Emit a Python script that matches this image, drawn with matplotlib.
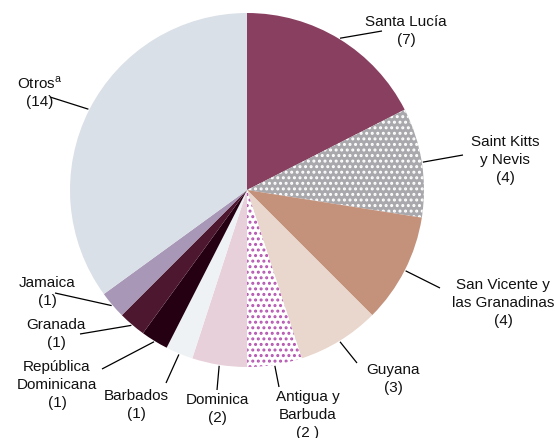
import numpy as np
import matplotlib
matplotlib.use("Agg")
import matplotlib.pyplot as plt

plt.rcParams['font.family'] = ['Liberation Sans', 'DejaVu Sans']
plt.rcParams['mathtext.fontset'] = 'custom'
plt.rcParams['mathtext.rm'] = 'Liberation Sans'
plt.rcParams['hatch.linewidth'] = 1.4

# number of projects per country
paises = ["Santa Lucía", "Saint Kitts\ny Nevis", "San Vicente y\nlas Granadinas",
          "Guyana", "Antigua y\nBarbuda", "Dominica", "Barbados",
          "República\nDominicana", "Granada", "Jamaica", r"Otros$^{\mathrm{a}}$"]
valores = [7, 4, 4, 3, 2, 2, 1, 1, 1, 1, 14]
etiquetas_valor = ["(7)", "(4)", "(4)", "(3)", "(2 )", "(2)", "(1)", "(1)", "(1)", "(1)", "(14)"]

colores = ["#893f60", "#a9a9ad", "#c4917b", "#e9d6cc", "#ffffff", "#e8d0da",
           "#eef2f5", "#240012", "#4d172f", "#a897b6", "#dae0e7"]
tramas = [None, "...", None, None, "...", None, None, None, None, None, None]
color_trama = {1: "#ffffff", 4: "#b455b1"}

# label block centres and leader-line outer ends (pixels from top-left)
pos_texto = [(406, 31), (505, 160), (503, 303), (393, 379), (308, 415),
             (217, 409), (136, 405), (57, 385), (56, 334), (47, 292), (40, 92)]
fin_linea = [(382, 31), (463, 155), (440, 288), (357, 363), (279, 387),
             (217, 390), (166, 383), (102, 369), (80, 334), (55, 293), (50, 97)]

W, H = 555, 438
fig = plt.figure(figsize=(W / 100, H / 100), dpi=100)
ax = fig.add_axes([0, 0, 1, 1])

cx, cy, r = 247, H - 190, 177
wedges, _ = ax.pie(valores, colors=colores, startangle=90, counterclock=False,
                   center=(cx, cy), radius=r, wedgeprops=dict(linewidth=0))
for i, w in enumerate(wedges):
    if tramas[i]:
        w.set_hatch(tramas[i])
        w.set_edgecolor(color_trama[i])
        w.set_linewidth(0)

ax.set_xlim(0, W)
ax.set_ylim(0, H)
ax.set_aspect('equal')
ax.axis('off')

acum = np.cumsum(valores) - np.array(valores) / 2
total = sum(valores)
for i, nombre in enumerate(paises):
    ang = np.deg2rad(acum[i] / total * 360)
    x0 = cx + (r + 1) * np.sin(ang)
    y0 = cy + (r + 1) * np.cos(ang)
    x1, y1 = fin_linea[i]
    ax.plot([x0, x1], [y0, H - y1], color="black", lw=0.9, solid_capstyle='butt')
    tx, ty = pos_texto[i]
    ax.text(tx, H - ty, nombre + "\n" + etiquetas_valor[i], ha='center', va='center',
            multialignment='center', fontsize=11, color="#111111", linespacing=1.35)

fig.savefig("out.png", dpi=100)
